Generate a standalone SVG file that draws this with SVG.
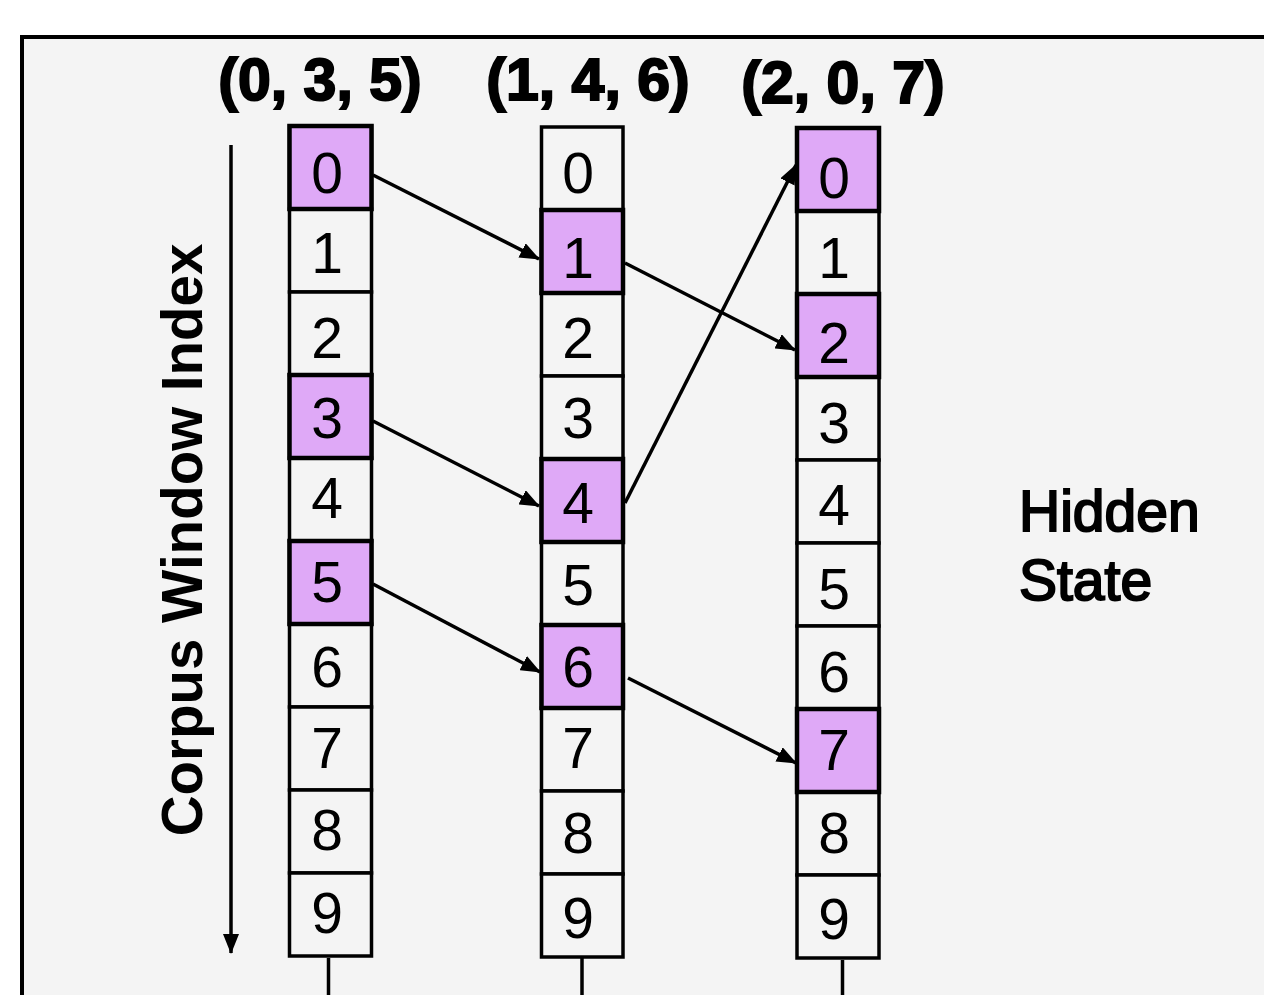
<svg xmlns="http://www.w3.org/2000/svg" width="1264" height="995" viewBox="0 0 1264 995">
<style>
.cell{fill:#f4f4f4;stroke:#000;stroke-width:3.5}
.hl{fill:#dfa9f7;stroke:#000;stroke-width:4.5}
.num{font-family:"Liberation Sans",Arial,sans-serif;font-size:57px;fill:#000;text-anchor:middle}
.title{font-family:"Liberation Sans",Arial,sans-serif;font-weight:bold;font-size:59px;fill:#000;stroke:#000;stroke-width:2;text-anchor:middle}
.lbl{font-family:"Liberation Sans",Arial,sans-serif;font-size:57px;fill:#000;stroke:#000;stroke-width:2}
.axis{font-family:"Liberation Sans",Arial,sans-serif;font-weight:bold;font-size:56.5px;fill:#000;text-anchor:middle}
.conn{stroke:#000;stroke-width:3.5;fill:none}
</style>
<defs>
<marker id="ah" viewBox="0 0 20 16" refX="19" refY="8" markerWidth="20" markerHeight="16" markerUnits="userSpaceOnUse" orient="auto">
<path d="M0,0 L20,8 L0,16 z" fill="#000"/>
</marker>
</defs>
<rect x="0" y="0" width="1264" height="995" fill="#fff"/>
<rect id="frame" x="22" y="37" width="1300" height="1000" fill="#f4f4f4" stroke="#000" stroke-width="4"/>

<g id="titles">
<text class="title" x="320" y="100">(0, 3, 5)</text>
<text class="title" x="588" y="100">(1, 4, 6)</text>
<text class="title" x="843" y="103">(2, 0, 7)</text>
</g>

<g id="axis">
<line class="conn" x1="231" y1="145" x2="231" y2="953" marker-end="url(#ah)"/>
<text class="axis" transform="translate(202,540) rotate(-90)" x="0" y="0">Corpus Window Index</text>
</g>

<g id="hidden-state">
<text class="lbl" x="1019" y="531">Hidden</text>
<text class="lbl" x="1019" y="600">State</text>
</g>

<g id="column1">
<rect class="cell" x="289.5" y="126" width="82" height="83"/>
<rect class="cell" x="289.5" y="209" width="82" height="83"/>
<rect class="cell" x="289.5" y="292" width="82" height="83"/>
<rect class="cell" x="289.5" y="375" width="82" height="83"/>
<rect class="cell" x="289.5" y="458" width="82" height="83"/>
<rect class="cell" x="289.5" y="541" width="82" height="83"/>
<rect class="cell" x="289.5" y="624" width="82" height="83"/>
<rect class="cell" x="289.5" y="707" width="82" height="83"/>
<rect class="cell" x="289.5" y="790" width="82" height="83"/>
<rect class="cell" x="289.5" y="873" width="82" height="83"/>
<rect class="hl" x="289.5" y="126" width="82" height="83"/>
<rect class="hl" x="289.5" y="375" width="82" height="83"/>
<rect class="hl" x="289.5" y="541" width="82" height="83"/>
<text class="num" x="327" y="193">0</text>
<text class="num" x="327" y="273">1</text>
<text class="num" x="327" y="358">2</text>
<text class="num" x="327" y="438">3</text>
<text class="num" x="327" y="518">4</text>
<text class="num" x="327" y="602">5</text>
<text class="num" x="327" y="687">6</text>
<text class="num" x="327" y="768">7</text>
<text class="num" x="327" y="850">8</text>
<text class="num" x="327" y="933">9</text>
<line class="conn" x1="328.5" y1="958" x2="328.5" y2="995"/>
</g>

<g id="column2">
<rect class="cell" x="541.5" y="127" width="81.5" height="83"/>
<rect class="cell" x="541.5" y="210" width="81.5" height="83"/>
<rect class="cell" x="541.5" y="293" width="81.5" height="83"/>
<rect class="cell" x="541.5" y="376" width="81.5" height="83"/>
<rect class="cell" x="541.5" y="459" width="81.5" height="83"/>
<rect class="cell" x="541.5" y="542" width="81.5" height="83"/>
<rect class="cell" x="541.5" y="625" width="81.5" height="83"/>
<rect class="cell" x="541.5" y="708" width="81.5" height="83"/>
<rect class="cell" x="541.5" y="791" width="81.5" height="83"/>
<rect class="cell" x="541.5" y="874" width="81.5" height="83"/>
<rect class="hl" x="541.5" y="210" width="81.5" height="83"/>
<rect class="hl" x="541.5" y="459" width="81.5" height="83"/>
<rect class="hl" x="541.5" y="625" width="81.5" height="83"/>
<text class="num" x="578" y="193">0</text>
<text class="num" x="578" y="278">1</text>
<text class="num" x="578" y="358">2</text>
<text class="num" x="578" y="438">3</text>
<text class="num" x="578" y="523">4</text>
<text class="num" x="578" y="605">5</text>
<text class="num" x="578" y="687">6</text>
<text class="num" x="578" y="768">7</text>
<text class="num" x="578" y="853">8</text>
<text class="num" x="578" y="938">9</text>
<line class="conn" x1="582" y1="958" x2="582" y2="995"/>
</g>

<g id="column3">
<rect class="cell" x="797" y="128" width="82" height="83"/>
<rect class="cell" x="797" y="211" width="82" height="83"/>
<rect class="cell" x="797" y="294" width="82" height="83"/>
<rect class="cell" x="797" y="377" width="82" height="83"/>
<rect class="cell" x="797" y="460" width="82" height="83"/>
<rect class="cell" x="797" y="543" width="82" height="83"/>
<rect class="cell" x="797" y="626" width="82" height="83"/>
<rect class="cell" x="797" y="709" width="82" height="83"/>
<rect class="cell" x="797" y="792" width="82" height="83"/>
<rect class="cell" x="797" y="875" width="82" height="83"/>
<rect class="hl" x="797" y="128" width="82" height="83"/>
<rect class="hl" x="797" y="294" width="82" height="83"/>
<rect class="hl" x="797" y="709" width="82" height="83"/>
<text class="num" x="834" y="198">0</text>
<text class="num" x="834" y="278">1</text>
<text class="num" x="834" y="363">2</text>
<text class="num" x="834" y="443">3</text>
<text class="num" x="834" y="525">4</text>
<text class="num" x="834" y="609">5</text>
<text class="num" x="834" y="692">6</text>
<text class="num" x="834" y="770">7</text>
<text class="num" x="834" y="853">8</text>
<text class="num" x="834" y="939">9</text>
<line class="conn" x1="842.5" y1="960" x2="842.5" y2="995"/>
</g>

<g id="connectors">
<line class="conn" x1="373" y1="175" x2="539" y2="259" marker-end="url(#ah)"/>
<line class="conn" x1="373" y1="421" x2="539" y2="506" marker-end="url(#ah)"/>
<line class="conn" x1="373" y1="584" x2="540" y2="672" marker-end="url(#ah)"/>
<line class="conn" x1="625" y1="263" x2="795" y2="350" marker-end="url(#ah)"/>
<line class="conn" x1="625" y1="503" x2="796" y2="165" marker-end="url(#ah)"/>
<line class="conn" x1="628" y1="678" x2="796" y2="763" marker-end="url(#ah)"/>
</g>
</svg>
